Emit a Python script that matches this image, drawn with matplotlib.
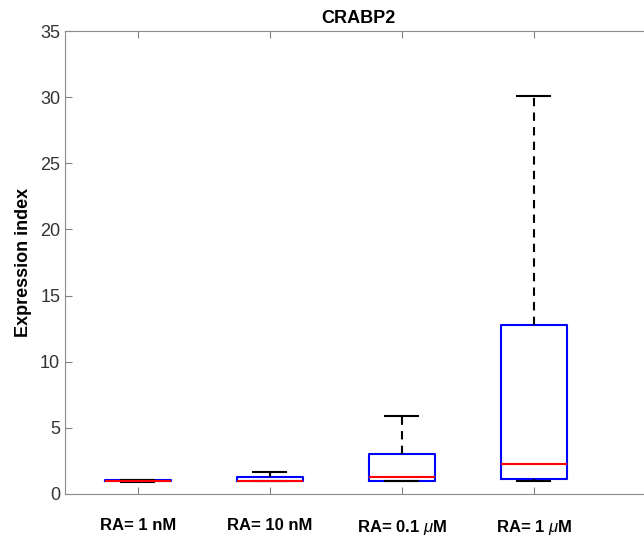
import matplotlib.pyplot as plt

plt.rcParams['font.family'] = ['Liberation Sans', 'DejaVu Sans']
plt.rcParams['mathtext.fontset'] = 'custom'
plt.rcParams['mathtext.it'] = 'Liberation Sans:italic'

# values
labels = ['RA= 1 nM', 'RA= 10 nM', r'RA= 0.1 $\mu$M', r'RA= 1 $\mu$M']
medians = [1.0, 1.0, 1.28, 2.24]
q1 = [1.0, 0.97, 1.0, 1.13]
q3 = [1.04, 1.28, 3.02, 12.77]
whis_lo = [0.9, 0.97, 1.0, 0.98]
whis_hi = [1.08, 1.66, 5.9, 30.08]

stats = []
for i in range(len(labels)):
    stats.append({'med': medians[i], 'q1': q1[i], 'q3': q3[i],
                  'whislo': whis_lo[i], 'whishi': whis_hi[i], 'fliers': []})

fig = plt.figure(figsize=(6.44, 5.44), dpi=100)
ax = fig.add_axes([65 / 644, 50 / 544, 586 / 644, 463 / 544])

# MATLAB style: caps are half the box width
ax.bxp(stats, positions=[1, 2, 3, 4], widths=0.5, capwidths=0.25, showfliers=False,
       boxprops=dict(color='blue', linewidth=1.5),
       medianprops=dict(color='red', linewidth=1.5),
       whiskerprops=dict(color='black', linestyle=(0, (4, 3)), linewidth=1.5),
       capprops=dict(color='black', linewidth=1.5))

ax.set_xlim(0.447, 0.447 + 586 / 132)
ax.set_ylim(0, 35)
ax.set_yticks(range(0, 36, 5))
ax.set_xticks([1, 2, 3, 4])
ax.set_xticklabels(labels, fontsize=12, fontweight='bold')
ax.tick_params(axis='x', direction='in', top=True, pad=17, length=5, color='0.5')
ax.tick_params(axis='y', direction='in', right=False, length=5, color='0.5',
               labelsize=13, labelcolor='0.2')
for sp in ax.spines.values():
    sp.set_color('0.55')
ax.spines['right'].set_visible(False)

ax.set_ylabel('Expression index', fontsize=13, fontweight='bold', labelpad=6)
ax.set_title('CRABP2', fontsize=13, fontweight='bold', pad=6)

fig.savefig('out.png', dpi=100)
